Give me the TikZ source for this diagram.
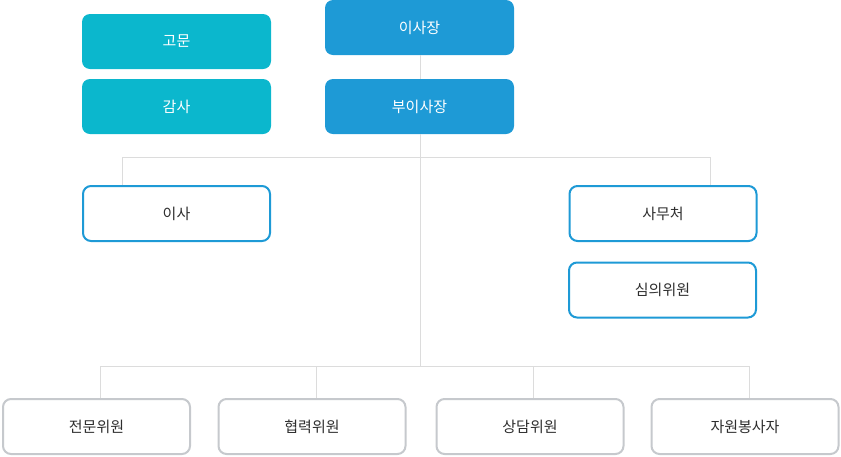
\documentclass[tikz,border=0pt]{standalone}
\usepackage{fontspec}
\setmainfont{Noto Sans CJK KR}
\usepackage{xcolor}
\usetikzlibrary{positioning}
\definecolor{tealbox}{HTML}{0BB7CD}
\definecolor{bluebox}{HTML}{1E9AD6}
\definecolor{graybox}{HTML}{C6C9CD}
\definecolor{linegray}{HTML}{DCDCDC}
\definecolor{textgray}{HTML}{2E2E2E}

\begin{document}
\begin{tikzpicture}[x=1pt,y=-1pt,
    box/.style={rounded corners=8pt, minimum width=189pt, minimum height=55pt, inner sep=0pt, font=\fontsize{15}{17}\selectfont},
    headbox/.style={box, fill=bluebox, text=white},
    sidebox/.style={box, fill=tealbox, text=white},
    midbox/.style={box, draw=bluebox, line width=2pt, fill=white, text=textgray, minimum width=187pt, minimum height=55pt},
    lowbox/.style={box, draw=graybox, line width=2pt, fill=white, text=textgray, minimum width=187pt, minimum height=55pt},
    link/.style={draw=linegray, line width=1pt}]
    \useasboundingbox (0,0) rectangle (841,456);

    % Top
    \node[headbox] (chair) at (419.5,27.5) {이사장};
    \node[headbox] (vice) at (419.5,106.5) {부이사장};
    \node[sidebox] (advisor) at (176.5,41.5) {고문};
    \node[sidebox] (auditor) at (176.5,106.5) {감사};

    % Middle
    \node[midbox] (board) at (176.5,213.5) {이사};
    \node[midbox] (office) at (663,213.5) {사무처};
    \node[midbox] (review) at (662.5,290) {심의위원};

    % Bottom
    \node[lowbox] (expert) at (96.5,426.5) {전문위원};
    \node[lowbox] (partner) at (312,426.5) {협력위원};
    \node[lowbox] (counsel) at (530,426.5) {상담위원};
    \node[lowbox] (volunteer) at (745,426.5) {자원봉사자};

    % Bus points
    \coordinate (midL) at (122,157);
    \coordinate (midC) at (420,157);
    \coordinate (midR) at (710,157);
    \coordinate (lowC) at (420,366);
    \coordinate (low1) at (100,366);
    \coordinate (low2) at (316,366);
    \coordinate (low3) at (533,366);
    \coordinate (low4) at (749,366);

    % Lines
    \draw[link] (chair.south -| midC) -- (vice.north -| midC);
    \draw[link] (vice.south -| midC) -- (lowC);
    \draw[link] (midL |- board.north) -- (midL) -- (midR) -- (midR |- office.north);
    \draw[link] (low1) -- (low4);
    \draw[link] (low1) -- (low1 |- expert.north);
    \draw[link] (low2) -- (low2 |- partner.north);
    \draw[link] (low3) -- (low3 |- counsel.north);
    \draw[link] (low4) -- (low4 |- volunteer.north);
\end{tikzpicture}
\end{document}
